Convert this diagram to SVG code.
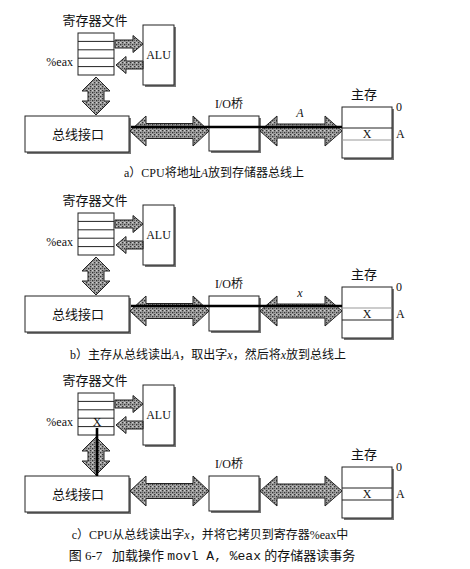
<svg xmlns="http://www.w3.org/2000/svg" width="470" height="569" viewBox="0 0 470 569">
<defs>
<pattern id="stip" width="4" height="4" patternUnits="userSpaceOnUse">
<rect width="4" height="4" fill="#a2a2a2"/>
<rect x="0" y="0" width="1.3" height="1.3" fill="#333"/>
<rect x="2" y="2" width="1.3" height="1.3" fill="#333"/>
<rect x="2" y="0" width="1" height="1" fill="#666"/>
<rect x="0" y="2" width="1" height="1" fill="#d0d0d0"/>
</pattern>
<style>
.box{fill:#fff;stroke:#222;stroke-width:1}
.sh{fill:#777}
.arr{fill:url(#stip);stroke:#222;stroke-width:1;stroke-linejoin:miter}
.row{stroke:#222;stroke-width:1}
.grow{stroke:#999;stroke-width:1.2}
.hl{stroke:#000;stroke-width:2.6;fill:none}
.zh{font-family:"Noto Sans CJK SC",sans-serif;font-size:13px;fill:#111}
.se{font-family:"Liberation Serif","Noto Sans CJK SC",serif;font-size:12px;fill:#111}
.it{font-style:italic}
.cap{font-family:"Liberation Serif","Noto Sans CJK SC",serif;font-size:12px;fill:#111}
.mono{font-family:"Liberation Mono",monospace}
</style>
</defs>
<rect width="470" height="569" fill="#fff"/>

<!-- Panel a -->
<g id="panel-a">
<g id="a-regfile">
<text class="zh" x="95" y="25" text-anchor="middle">寄存器文件</text>
<rect class="box" x="78" y="33" width="36" height="42"/>
<line class="row" x1="78" y1="41.4" x2="114" y2="41.4"/>
<line class="row" x1="78" y1="49.8" x2="114" y2="49.8"/>
<line class="row" x1="78" y1="58.2" x2="114" y2="58.2"/>
<line class="row" x1="78" y1="66.6" x2="114" y2="66.6"/>
<text class="se" x="73" y="66" text-anchor="end">%eax</text>
</g>
<g id="a-alu">
<rect class="sh" x="145" y="27" width="31" height="60"/>
<rect class="box" x="143" y="25" width="31" height="60"/>
<text class="se" x="158.5" y="59" text-anchor="middle">ALU</text>
</g>
<g id="a-bus-if">
<rect class="sh" x="27" y="118" width="104" height="36"/>
<rect class="box" x="25" y="116" width="104" height="36"/>
<text class="zh" x="78" y="139" text-anchor="middle">总线接口</text>
</g>
<g id="a-iobridge">
<text class="se" x="229" y="108" text-anchor="middle">I/O桥</text>
<rect class="sh" x="211" y="118" width="50" height="35"/>
<rect class="box" x="209" y="116" width="50" height="35"/>
</g>
<g id="a-mem">
<text class="zh" x="364" y="99" text-anchor="middle">主存</text>
<rect class="sh" x="344" y="109" width="50" height="51"/>
<rect class="box" x="342" y="107" width="50" height="51"/>
<line class="row" x1="342" y1="128" x2="392" y2="128"/>
<line class="grow" x1="342" y1="140" x2="392" y2="140"/>
<text class="se" x="367" y="138" text-anchor="middle">X</text>
<text class="se" x="396" y="111">0</text>
<text class="se" x="396" y="138">A</text>
</g>
<g id="a-connectors">
<path class="arr" d="M115,40 L133,40 L133,35.5 L143,44 L133,52.5 L133,48 L115,48 Z"/>
<path class="arr" d="M143,61 L126,61 L126,56.5 L116,65 L126,73.5 L126,69 L143,69 Z"/>
<path class="arr" d="M96,77 L110,91 L104,91 L104,101 L110,101 L96,115 L82,101 L88,101 L88,91 L82,91 Z"/>
<path class="arr" d="M130,131 L146,116 L146,123.5 L193,123.5 L193,116 L209,131 L193,146 L193,138.5 L146,138.5 L146,146 Z"/>
<path class="arr" d="M260,131 L277,116 L277,124 L325,124 L325,116 L342,131 L325,146 L325,138 L277,138 L277,146 Z"/>
<line class="hl" x1="131" y1="127" x2="342" y2="127"/>
<text class="se it" x="300" y="117" text-anchor="middle">A</text>
</g>
<text class="cap" x="214" y="177" text-anchor="middle">a）CPU将地址<tspan class="it">A</tspan>放到存储器总线上</text>
</g>

<!-- Panel b -->
<g id="panel-b" transform="translate(0,180)">
<g id="b-regfile">
<text class="zh" x="95" y="25" text-anchor="middle">寄存器文件</text>
<rect class="box" x="78" y="33" width="36" height="42"/>
<line class="row" x1="78" y1="41.4" x2="114" y2="41.4"/>
<line class="row" x1="78" y1="49.8" x2="114" y2="49.8"/>
<line class="row" x1="78" y1="58.2" x2="114" y2="58.2"/>
<line class="row" x1="78" y1="66.6" x2="114" y2="66.6"/>
<text class="se" x="73" y="66" text-anchor="end">%eax</text>
</g>
<g id="b-alu">
<rect class="sh" x="145" y="27" width="31" height="60"/>
<rect class="box" x="143" y="25" width="31" height="60"/>
<text class="se" x="158.5" y="59" text-anchor="middle">ALU</text>
</g>
<g id="b-bus-if">
<rect class="sh" x="27" y="118" width="104" height="36"/>
<rect class="box" x="25" y="116" width="104" height="36"/>
<text class="zh" x="78" y="139" text-anchor="middle">总线接口</text>
</g>
<g id="b-iobridge">
<text class="se" x="229" y="108" text-anchor="middle">I/O桥</text>
<rect class="sh" x="211" y="118" width="50" height="35"/>
<rect class="box" x="209" y="116" width="50" height="35"/>
</g>
<g id="b-mem">
<text class="zh" x="364" y="99" text-anchor="middle">主存</text>
<rect class="sh" x="344" y="109" width="50" height="51"/>
<rect class="box" x="342" y="107" width="50" height="51"/>
<line class="grow" x1="342" y1="128" x2="392" y2="128"/>
<line class="row" x1="342" y1="140" x2="392" y2="140"/>
<text class="se" x="367" y="138" text-anchor="middle">X</text>
<text class="se" x="396" y="111">0</text>
<text class="se" x="396" y="138">A</text>
</g>
<g id="b-connectors">
<path class="arr" d="M115,40 L133,40 L133,35.5 L143,44 L133,52.5 L133,48 L115,48 Z"/>
<path class="arr" d="M143,61 L126,61 L126,56.5 L116,65 L126,73.5 L126,69 L143,69 Z"/>
<path class="arr" d="M96,77 L110,91 L104,91 L104,101 L110,101 L96,115 L82,101 L88,101 L88,91 L82,91 Z"/>
<path class="arr" d="M130,131 L146,116 L146,123.5 L193,123.5 L193,116 L209,131 L193,146 L193,138.5 L146,138.5 L146,146 Z"/>
<path class="arr" d="M260,131 L277,116 L277,124 L325,124 L325,116 L342,131 L325,146 L325,138 L277,138 L277,146 Z"/>
<line class="hl" x1="131" y1="126" x2="342" y2="126"/>
<text class="se it" x="300" y="117" text-anchor="middle">x</text>
</g>
<text class="cap" x="208" y="179" text-anchor="middle">b）主存从总线读出<tspan class="it">A</tspan>，取出字<tspan class="it">x</tspan>，然后将<tspan class="it">x</tspan>放到总线上</text>
</g>

<!-- Panel c -->
<g id="panel-c" transform="translate(0,360)">
<g id="c-regfile">
<text class="zh" x="95" y="25" text-anchor="middle">寄存器文件</text>
<rect class="box" x="78" y="33" width="36" height="42"/>
<line class="row" x1="78" y1="41.4" x2="114" y2="41.4"/>
<line class="row" x1="78" y1="49.8" x2="114" y2="49.8"/>
<line class="row" x1="78" y1="58.2" x2="114" y2="58.2"/>
<line class="row" x1="78" y1="66.6" x2="114" y2="66.6"/>
<text class="se" x="73" y="66" text-anchor="end">%eax</text>
<text class="se" x="97" y="66" text-anchor="middle">X</text>
</g>
<g id="c-alu">
<rect class="sh" x="145" y="27" width="31" height="60"/>
<rect class="box" x="143" y="25" width="31" height="60"/>
<text class="se" x="158.5" y="59" text-anchor="middle">ALU</text>
</g>
<g id="c-bus-if">
<rect class="sh" x="27" y="118" width="104" height="36"/>
<rect class="box" x="25" y="116" width="104" height="36"/>
<text class="zh" x="78" y="139" text-anchor="middle">总线接口</text>
</g>
<g id="c-iobridge">
<text class="se" x="229" y="108" text-anchor="middle">I/O桥</text>
<rect class="sh" x="211" y="118" width="50" height="35"/>
<rect class="box" x="209" y="116" width="50" height="35"/>
</g>
<g id="c-mem">
<text class="zh" x="364" y="99" text-anchor="middle">主存</text>
<rect class="sh" x="344" y="109" width="50" height="51"/>
<rect class="box" x="342" y="107" width="50" height="51"/>
<line class="row" x1="342" y1="128" x2="392" y2="128"/>
<line class="row" x1="342" y1="140" x2="392" y2="140"/>
<text class="se" x="367" y="138" text-anchor="middle">X</text>
<text class="se" x="396" y="111">0</text>
<text class="se" x="396" y="138">A</text>
</g>
<g id="c-connectors">
<path class="arr" d="M115,40 L133,40 L133,35.5 L143,44 L133,52.5 L133,48 L115,48 Z"/>
<path class="arr" d="M143,61 L126,61 L126,56.5 L116,65 L126,73.5 L126,69 L143,69 Z"/>
<path class="arr" d="M96,77 L110,91 L104,91 L104,101 L110,101 L96,115 L82,101 L88,101 L88,91 L82,91 Z"/>
<path class="arr" d="M130,131 L146,116 L146,123.5 L193,123.5 L193,116 L209,131 L193,146 L193,138.5 L146,138.5 L146,146 Z"/>
<path class="arr" d="M260,131 L277,116 L277,124 L325,124 L325,116 L342,131 L325,146 L325,138 L277,138 L277,146 Z"/>
<line class="hl" x1="97" y1="68" x2="97" y2="116"/>
</g>
<text class="cap" x="210" y="179" text-anchor="middle">c）CPU从总线读出字<tspan class="it">x</tspan>，并将它拷贝到寄存器%eax中</text>
</g>

<text id="fig-caption" class="cap" x="212" y="560" text-anchor="middle" style="font-size:13px;white-space:pre" xml:space="preserve">图 6-7   加载操作 <tspan class="mono">movl A, %eax</tspan> 的存储器读事务</text>
</svg>
